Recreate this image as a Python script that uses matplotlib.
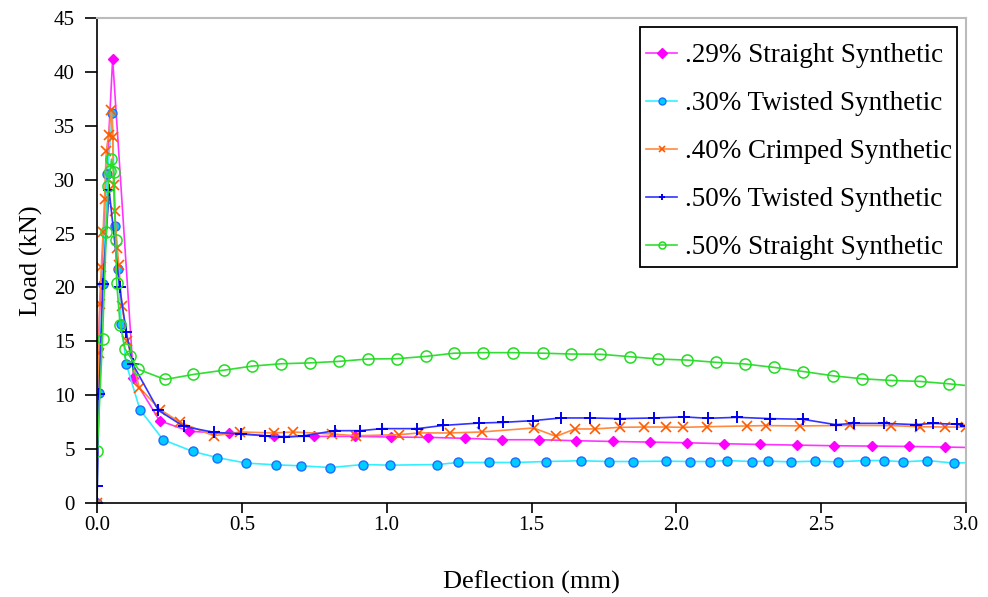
import matplotlib
matplotlib.use("Agg")
import matplotlib.pyplot as plt
from matplotlib.patches import Rectangle

plt.rcParams.update({"font.family": ["Liberation Serif", "DejaVu Serif"],
                     "font.size": 14, "axes.linewidth": 1.2})

# .29% Straight Synthetic
x_s29 = [0, 0.003, 0.054, 0.126, 0.216, 0.319, 0.457, 0.61, 0.749, 0.889, 1.016, 1.144, 1.271,
         1.398, 1.525, 1.653, 1.781, 1.908, 2.037, 2.164, 2.29, 2.418, 2.546, 2.675, 2.802, 2.928, 3.055]
y_s29 = [0, 14.3, 41.2, 11.6, 7.64, 6.65, 6.46, 6.18, 6.18, 6.18, 6.12, 6.09, 6.0,
         5.87, 5.87, 5.78, 5.71, 5.65, 5.59, 5.5, 5.43, 5.37, 5.31, 5.28, 5.25, 5.19, 5.13]
# .30% Twisted Synthetic
x_t30 = [0, 0.006, 0.02, 0.036, 0.053, 0.063, 0.073, 0.084, 0.101, 0.148, 0.228, 0.331, 0.414, 0.516,
         0.619, 0.705, 0.806, 0.918, 1.011, 1.175, 1.247, 1.352, 1.444, 1.55, 1.672, 1.767, 1.85, 1.963,
         2.046, 2.117, 2.175, 2.26, 2.317, 2.395, 2.479, 2.557, 2.65, 2.717, 2.784, 2.867, 2.96, 3.04]
y_t30 = [0, 10.2, 20.3, 30.5, 36.2, 25.7, 21.7, 16.6, 12.9, 8.67, 5.87, 4.78, 4.22, 3.7,
         3.54, 3.45, 3.29, 3.57, 3.51, 3.57, 3.76, 3.76, 3.76, 3.85, 3.92, 3.85, 3.85, 3.88,
         3.85, 3.85, 3.94, 3.85, 3.88, 3.82, 3.88, 3.82, 3.94, 3.94, 3.82, 3.94, 3.7, 3.78]
# .40% Crimped Synthetic
x_c40 = [0, 0.006, 0.009, 0.015, 0.021, 0.026, 0.032, 0.04, 0.05, 0.054, 0.057, 0.061, 0.07, 0.075,
         0.086, 0.105, 0.146, 0.218, 0.287, 0.403, 0.495, 0.61, 0.677, 0.812, 0.895, 1.043, 1.112,
         1.219, 1.328, 1.507, 1.585, 1.65, 1.718, 1.804, 1.888, 1.963, 2.023, 2.106, 2.245, 2.311,
         2.427, 2.6, 2.74, 2.842, 2.928, 3.0]
y_c40 = [0, 13.9, 18.5, 21.9, 25.1, 28.2, 32.7, 34.1, 36.5, 34.0, 29.5, 27.1, 23.7, 22.1,
         18.3, 15.0, 10.7, 8.67, 7.48, 6.24, 6.59, 6.5, 6.59, 6.4, 6.24, 6.34, 6.5,
         6.5, 6.59, 6.96, 6.18, 6.87, 6.87, 7.02, 7.05, 7.05, 7.02, 7.08, 7.15, 7.18,
         7.15, 7.2, 7.18, 7.08, 7.05, 7.05]
# .50% Twisted Synthetic
x_t50 = [0, 0.001, 0.007, 0.02, 0.042, 0.078, 0.101, 0.123, 0.212, 0.299, 0.405, 0.497, 0.581, 0.645,
         0.714, 0.821, 0.908, 0.985, 1.106, 1.196, 1.32, 1.4, 1.504, 1.602, 1.703, 1.807, 1.923,
         2.026, 2.109, 2.211, 2.323, 2.436, 2.55, 2.615, 2.717, 2.827, 2.886, 2.969, 3.0]
y_t50 = [0, 1.6, 10.1, 20.3, 29.0, 20.0, 15.9, 12.9, 8.6, 7.11, 6.55, 6.43, 6.24, 6.09,
         6.24, 6.71, 6.71, 6.9, 6.9, 7.2, 7.42, 7.48, 7.64, 7.89, 7.89, 7.83, 7.89,
         7.99, 7.86, 7.95, 7.83, 7.77, 7.27, 7.39, 7.39, 7.27, 7.39, 7.3, 7.11]
# .50% Straight Synthetic
x_s50 = [0.001, 0.019, 0.032, 0.039, 0.045, 0.05, 0.058, 0.064, 0.068, 0.08, 0.097, 0.113, 0.143,
         0.235, 0.333, 0.44, 0.535, 0.636, 0.735, 0.835, 0.935, 1.035, 1.135, 1.233, 1.333, 1.435,
         1.539, 1.638, 1.738, 1.839, 1.937, 2.038, 2.138, 2.236, 2.338, 2.438, 2.542, 2.64, 2.742,
         2.842, 2.94, 3.04]
y_s50 = [4.8, 15.2, 25.1, 29.4, 30.8, 31.9, 30.7, 24.4, 20.4, 16.5, 14.3, 13.6, 12.4,
         11.46, 11.93, 12.33, 12.7, 12.92, 13.0, 13.14, 13.36, 13.39, 13.6, 13.9, 13.95, 13.95,
         13.9, 13.82, 13.8, 13.58, 13.36, 13.26, 13.05, 12.9, 12.58, 12.2, 11.8, 11.53, 11.37,
         11.28, 11.06, 10.8]

W, H = 988, 597
fig = plt.figure(figsize=(W / 100, H / 100), dpi=100)
ax = fig.add_axes([97 / W, 1 - 503 / H, 869 / W, 485 / H])

ax.plot(x_s29, y_s29, "-D", color="#FF33FF", mfc="#FF00FF", mec="#FF00FF", ms=5, lw=1.2,
        label=".29% Straight Synthetic")
ax.plot(x_t30, y_t30, "-o", color="#33F0FF", mfc="#00CCFF", mec="#1E6BFF", ms=6.5, mew=1.0, lw=1.2,
        label=".30% Twisted Synthetic")
ax.plot(x_c40, y_c40, "-x", color="#FF8A40", mec="#FF5A00", ms=7.5, mew=1.2, lw=1.2,
        label=".40% Crimped Synthetic")
ax.plot(x_t50, y_t50, "-+", color="#3333FF", mec="#0000EE", ms=9, mew=1.4, lw=1.2,
        label=".50% Twisted Synthetic")
ax.plot(x_s50, y_s50, "-o", color="#33DD33", mfc="none", mec="#22DD22", ms=8, mew=1.1, lw=1.2,
        label=".50% Straight Synthetic")

ax.set_xlim(0, 3.0)
ax.set_ylim(0, 45)
ax.set_xticks([0, 0.5, 1.0, 1.5, 2.0, 2.5, 3.0])
ax.set_xticklabels([f"{v:.1f}" for v in [0, 0.5, 1.0, 1.5, 2.0, 2.5, 3.0]])
ax.set_yticks(range(0, 46, 5))
ax.tick_params(axis="x", direction="out", length=7, width=1.2, labelsize=15, pad=2)
ax.tick_params(axis="y", direction="out", length=9, width=1.2, labelsize=15, pad=7)
for s in ("top", "right"):
    ax.spines[s].set_color("#BBBBBB")
    ax.spines[s].set_linewidth(1.5)

ax.set_xlabel("Deflection (mm)", fontsize=19, labelpad=26)
ax.set_ylabel("Load (kN)", fontsize=19, labelpad=8)

# legend box drawn separately so the padding matches the original
fig.add_artist(Rectangle((640 / W, 1 - 267 / H), 317 / W, 240 / H, transform=fig.transFigure,
                         fc="white", ec="black", lw=1.3, zorder=4))
leg = fig.legend(loc="upper left", bbox_to_anchor=(646 / W, 1 - 43 / H), fontsize=19.5,
                 frameon=False, handlelength=1.15, handletextpad=0.3, labelspacing=0.85,
                 borderpad=0, borderaxespad=0)
leg.set_zorder(5)
for h in leg.legend_handles:
    h.set_markersize(5)

fig.savefig("out.png", dpi=100)
